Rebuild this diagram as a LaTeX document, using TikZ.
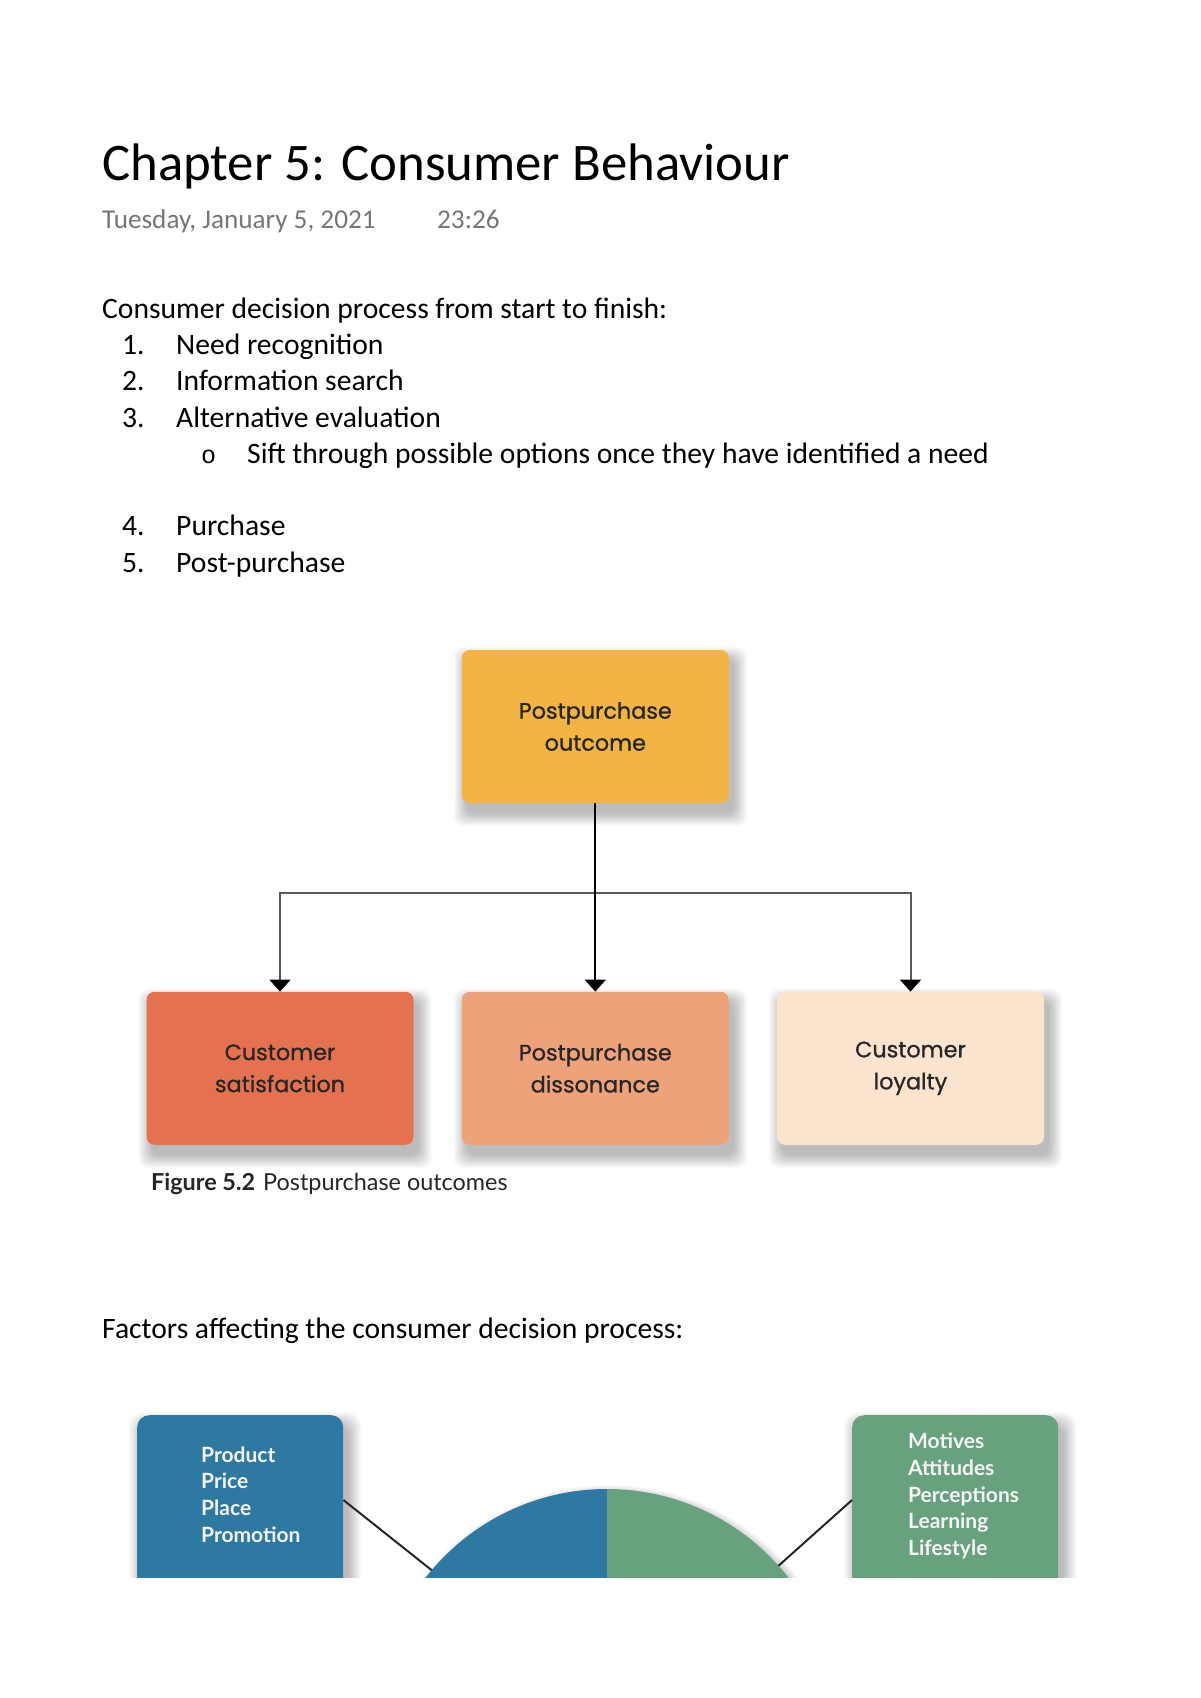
\documentclass[tikz,border=0pt]{standalone}
\usepackage{fontspec}
\setmainfont{Carlito}
\newfontfamily\boxfont[FakeBold=0.9]{Poppins}
\newfontfamily\labfont{Lato}
\newfontfamily\bulletfont{Liberation Mono}
\usetikzlibrary{arrows.meta,calc,backgrounds}
\definecolor{topc}{HTML}{F2B443}
\definecolor{satc}{HTML}{E5724E}
\definecolor{disc}{HTML}{EEA27A}
\definecolor{loyc}{HTML}{FBE4CE}
\definecolor{bluec}{HTML}{2E79A1}
\definecolor{greenc}{HTML}{67A17E}
\definecolor{boxtext}{HTML}{262626}
\definecolor{dategray}{HTML}{767676}
\definecolor{branchgray}{HTML}{5A5A5A}
\newcommand{\boxshadow}[2]{% node, corner radius
  \foreach \k in {0,...,13} {
    \fill[black, opacity=0.02, rounded corners=#2]
      ([xshift={(5-\k)*1pt}, yshift={(-10+\k)*1pt}]#1.north west) rectangle
      ([xshift={(5+\k)*1pt}, yshift={(-10-\k)*1pt}]#1.south east);
  }}
\begin{document}
\begin{tikzpicture}[x=1pt,y=-1pt,
  txt/.style={anchor=base west, inner sep=0pt, font=\fontsize{29.6}{34}\selectfont},
  obox/.style={rounded corners=8pt, minimum width=267pt, minimum height=153pt,
    align=center, inner sep=0pt, text=boxtext,
    font=\boxfont\fontsize{22.3}{32}\selectfont},
  fbox/.style={rounded corners=12pt, minimum width=206pt, minimum height=240pt,
    anchor=north west, inner sep=0pt},
  ftxt/.style={anchor=base west, inner sep=0pt, text=white!96!black,
    font=\labfont\bfseries\fontsize{21}{24}\selectfont},
  branch/.style={draw=branchgray, line width=2pt},
  tip/.style={-{Triangle[width=21pt,length=12pt,color=black]}}
]
\useasboundingbox (0,0) rectangle (1200,1698);

% header
\node[anchor=base west, inner sep=0pt] (title) at (102,180)
  {\fontsize{52.8}{60}\selectfont Chapter 5: Consumer Behaviour};
\node[anchor=base west, inner sep=0pt, text=dategray] (date) at (102,228)
  {\fontsize{27.2}{30}\selectfont Tuesday, January 5, 2021};
\node[anchor=base west, inner sep=0pt, text=dategray] (time) at (437,228)
  {\fontsize{27.2}{30}\selectfont 23:26};

% list
\node[txt] (intro) at (102,318) {Consumer decision process from start to finish:};
\node[txt] (n1) at (122,354) {1.};
\node[txt] (i1) at (176,354) {Need recognition};
\node[txt] (n2) at (122,390) {2.};
\node[txt] (i2) at (176,390) {Information search};
\node[txt] (n3) at (122,427) {3.};
\node[txt] (i3) at (176,427) {Alternative evaluation};
\node[txt] (b1) at (201,463) {\bulletfont\fontsize{25}{25}\selectfont o};
\node[txt] (s1) at (247,463) {Sift through possible options once they have identified a need};
\node[txt] (n4) at (122,535) {4.};
\node[txt] (i4) at (176,535) {Purchase};
\node[txt] (n5) at (122,572) {5.};
\node[txt] (i5) at (176,572) {Post-purchase};

% figure 5.2
\node[obox, fill=topc] (top) at (595.3,726.5) {Postpurchase\\outcome};
\node[obox, fill=satc] (sat) at (280,1068.3) {Customer\\satisfaction};
\node[obox, fill=disc] (dis) at (595.3,1068.3) {Postpurchase\\dissonance};
\node[obox, fill=loyc] (loy) at (910.5,1068.3) {Customer\\loyalty};
\coordinate (junc) at (595.3,892.5);
\draw[branch, tip] (junc) -| (sat.north);
\draw[branch, tip] (junc) -| (loy.north);
\draw[line width=2.2pt, black, tip] (top.south) -- (dis.north);

\node[anchor=base west, inner sep=0pt, text=boxtext] (cap) at (151,1190)
  {\labfont\fontsize{23.4}{26}\selectfont\textbf{Figure 5.2}\hspace{8pt}Postpurchase outcomes};

\node[txt] (factors) at (102,1338) {Factors affecting the consumer decision process:};

% factors figure (cropped)
\begin{scope}
  \clip (100,1395) rectangle (1100,1577);
  \node[fbox, fill=bluec] (mix) at (137,1415) {};
  \node[fbox, fill=greenc] (pers) at (852,1415) {};
  \coordinate (dl) at (434,1572);
  \coordinate (dr) at (776,1568);
  \draw[line width=2pt, black!85] ($(mix.north east)+(0,85)$) -- (dl);
  \draw[line width=2pt, black!85] ($(pers.north west)+(0,85)$) -- (dr);
  \foreach \k in {0,...,8} {
    \fill[black, opacity=0.025] (610,1722) circle[radius={229+\k}];
  }
  \begin{scope}
    \clip (370,1480) rectangle (607,1600);
    \fill[bluec] (607,1719) circle[radius=230];
  \end{scope}
  \begin{scope}
    \clip (607,1480) rectangle (845,1600);
    \fill[greenc] (607,1719) circle[radius=230];
  \end{scope}
\end{scope}
\node[ftxt] (p1) at (201,1462) {Product};
\node[ftxt] (p2) at (201,1488) {Price};
\node[ftxt] (p3) at (201,1515) {Place};
\node[ftxt] (p4) at (201,1542) {Promotion};
\node[ftxt] (q1) at (908,1448) {Motives};
\node[ftxt] (q2) at (908,1475) {Attitudes};
\node[ftxt] (q3) at (908,1502) {Perceptions};
\node[ftxt] (q4) at (908,1528) {Learning};
\node[ftxt] (q5) at (908,1555) {Lifestyle};

\begin{scope}[on background layer]
  \fill[white] (0,0) rectangle (1200,1698);
  \boxshadow{top}{10pt}
  \boxshadow{sat}{10pt}
  \boxshadow{dis}{10pt}
  \boxshadow{loy}{10pt}
  \begin{scope}
    \clip (100,1395) rectangle (1100,1577);
    \boxshadow{mix}{14pt}
    \boxshadow{pers}{14pt}
  \end{scope}
\end{scope}
\end{tikzpicture}
\end{document}
